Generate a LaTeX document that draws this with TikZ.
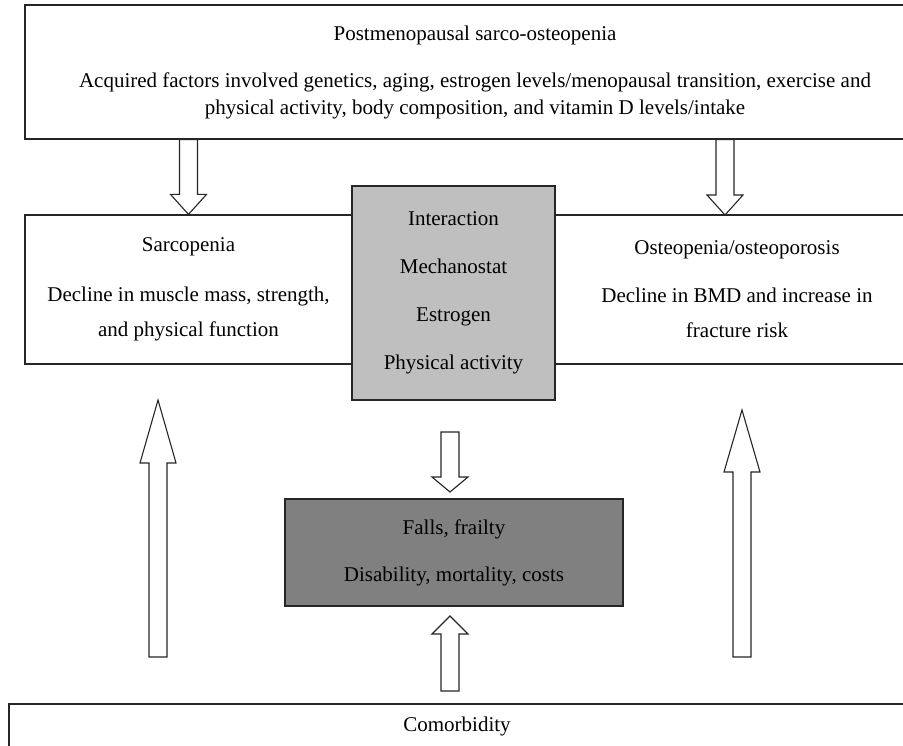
\documentclass[tikz,border=0pt]{standalone}
\usepackage{fontspec}
\setmainfont{Liberation Serif}
\usepackage{xcolor}
\usetikzlibrary{calc,positioning}

% hollow block arrow: start, tip, head length
\newcommand{\fatarrow}[3]{%
  \coordinate (hb) at ($(#2)!#3!(#1)$);
  \draw[hollow] ($(#1)!9pt!90:(#2)$) -- ($(hb)!9pt!90:(#2)$) -- ($(hb)!18pt!90:(#2)$) -- (#2)
    -- ($(hb)!18pt!-90:(#2)$) -- ($(hb)!9pt!-90:(#2)$) -- ($(#1)!9pt!-90:(#2)$) -- cycle;
}

\begin{document}
\begin{tikzpicture}[x=1pt,y=-1pt,
    box/.style={draw=black!85, line width=1.2pt, fill=white, align=center, inner sep=0pt,
                font=\fontsize{21}{35.5}\selectfont},
    hollow/.style={draw=black!85, line width=1.1pt, fill=white, line join=miter}]
    \useasboundingbox (0,0) rectangle (903,746);

    % Boxes
    \node[box, minimum width=900, minimum height=134, font=\fontsize{21}{27}\selectfont] (top) at (475,72)
        {Postmenopausal sarco-osteopenia\\[20pt]
         Acquired factors involved genetics, aging, estrogen levels/menopausal transition, exercise and\\
         physical activity, body composition, and vitamin D levels/intake};
    \node[box, minimum width=327, minimum height=149] (sarc) at (188.5,289.5)
        {Sarcopenia\\[14pt]Decline in muscle mass, strength,\\and physical function};
    \node[box, minimum width=364, minimum height=149, text depth=0pt] (osteo) at (737,289.5)
        {Osteopenia/osteoporosis\\[12pt]Decline in BMD and increase in\\fracture risk};
    \node[box, fill=black!25, minimum width=203, minimum height=214, font=\fontsize{21}{48}\selectfont] (inter) at (453.5,293)
        {Interaction\\Mechanostat\\Estrogen\\Physical activity};
    \node[box, fill=black!50, minimum width=338, minimum height=107, font=\fontsize{21}{47}\selectfont] (falls) at (454,552.5)
        {Falls, frailty\\Disability, mortality, costs};
    \node[box, minimum width=896, minimum height=44] (comorb) at (457,726) {Comorbidity};

    % Arrows
    \coordinate (osteoin) at (725,215);
    \fatarrow{top.south -| sarc.north}{sarc.north}{20pt}
    \fatarrow{top.south -| osteoin}{osteoin}{20pt}

    \coordinate (leftfoot) at (158,657);
    \coordinate (lefttip) at (158,400);
    \fatarrow{leftfoot}{lefttip}{63pt}
    \coordinate (rightfoot) at (742,657);
    \coordinate (righttip) at (742,410);
    \fatarrow{rightfoot}{righttip}{62pt}

    \coordinate (midtop) at (450,432);
    \coordinate (midtip) at (450,492);
    \fatarrow{midtop}{midtip}{15pt}
    \coordinate (midfoot) at (450,691);
    \coordinate (midup) at (450,616);
    \fatarrow{midfoot}{midup}{18pt}
\end{tikzpicture}
\end{document}
